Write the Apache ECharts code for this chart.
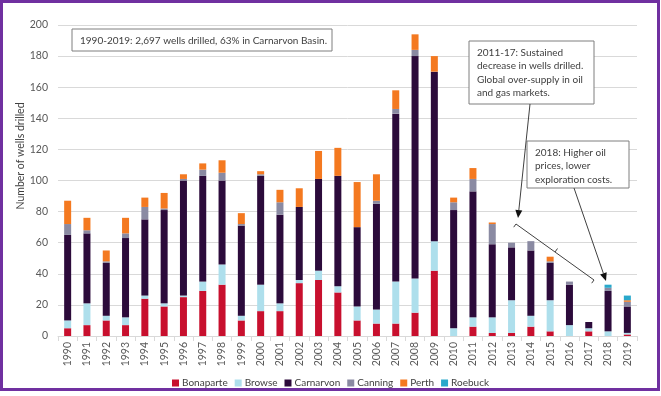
<!DOCTYPE html>
<html>
<head>
<meta charset="utf-8">
<script src="https://cdn.jsdelivr.net/npm/echarts@6/dist/echarts.min.js"></script>
<style>
  html, body { margin: 0; padding: 0; background: #fff; }
  #chart { width: 661px; height: 396px; }
</style>
</head>
<body>
<div id="chart"></div>
<script>
// 年份与各盆地钻井数
var years = ['1990', '1991', '1992', '1993', '1994', '1995', '1996', '1997', '1998', '1999',
    '2000', '2001', '2002', '2003', '2004', '2005', '2006', '2007', '2008', '2009',
    '2010', '2011', '2012', '2013', '2014', '2015', '2016', '2017', '2018', '2019'];
var bonaparte = [5, 7, 10, 7, 24, 19, 25, 29, 33, 10, 16, 16, 34, 36, 28, 10, 8, 8, 15, 42, 0, 6, 2, 2, 6, 3, 0, 3, 0, 1];
var browse = [5, 14, 3, 5, 2, 2, 1, 6, 13, 3, 17, 5, 2, 6, 4, 9, 9, 27, 22, 19, 5, 6, 10, 21, 7, 20, 7, 2, 3, 1];
var carnarvon = [55, 45, 34, 51, 49, 60, 74, 68, 54, 58, 70, 57, 47, 59, 71, 51, 68, 108, 143, 109, 76, 81, 47, 34, 42, 24, 26, 4, 26, 17];
var canning = [7, 2, 1, 3, 8, 1, 1, 4, 5, 1, 1, 8, 0, 0, 0, 0, 2, 3, 4, 0, 5, 8, 13, 3, 6, 1, 2, 0, 2, 3];
var perth = [15, 8, 7, 10, 6, 10, 3, 4, 8, 7, 2, 8, 12, 18, 18, 29, 17, 12, 10, 10, 3, 7, 1, 0, 0, 3, 0, 0, 0, 1];
var roebuck = [0, 0, 0, 0, 0, 0, 0, 0, 0, 0, 0, 0, 0, 0, 0, 0, 0, 0, 0, 0, 0, 0, 0, 0, 0, 0, 0, 0, 2, 3];

const FONT = 'Lato';
const TEXT_COLOR = '#595959';
const LINE_COLOR = '#404040';

var basins = [
    { name: 'Bonaparte', data: bonaparte, color: '#C8102E' },
    { name: 'Browse', data: browse, color: '#AEDFEC' },
    { name: 'Carnarvon', data: carnarvon, color: '#2C0B3B' },
    { name: 'Canning', data: canning, color: '#8A8AA2' },
    { name: 'Perth', data: perth, color: '#F47920' },
    { name: 'Roebuck', data: roebuck, color: '#29A8CB' }
];

var series = basins.map(function (b) {
    return {
        name: b.name,
        type: 'bar',
        stack: 'wells',
        barWidth: 7,
        data: b.data,
        itemStyle: { color: b.color }
    };
});

// 注释框
const noteBox = (x, y, w, h, lines) => {
    return {
        type: 'group',
        children: [{
            type: 'rect',
            shape: { x: x, y: y, width: w, height: h },
            style: { fill: '#fff', stroke: '#7f7f7f', lineWidth: 1 },
            z: 10
        }, {
            type: 'text',
            x: x + 8,
            y: y + 5,
            style: {
                text: lines.join('\n'),
                fill: LINE_COLOR,
                font: '10px "' + FONT + '"',
                lineHeight: 13.5
            },
            z: 11
        }]
    };
};

const arrow = (x1, y1, x2, y2) => {
    var dx = x2 - x1, dy = y2 - y1;
    var len = Math.sqrt(dx * dx + dy * dy);
    var ux = dx / len, uy = dy / len;
    var bx = x2 - ux * 8, by = y2 - uy * 8;
    return {
        type: 'group',
        children: [{
            type: 'line',
            shape: { x1: x1, y1: y1, x2: bx, y2: by },
            style: { stroke: LINE_COLOR, lineWidth: 1 },
            z: 10
        }, {
            type: 'polygon',
            shape: { points: [[x2, y2], [bx - uy * 3.5, by + ux * 3.5], [bx + uy * 3.5, by - ux * 3.5]] },
            style: { fill: '#111' },
            z: 10
        }]
    };
};

var graphic = [
    {
        type: 'rect',
        shape: { x: 1.5, y: 1.5, width: 657, height: 388 },
        style: { fill: 'none', stroke: '#7030A0', lineWidth: 3 },
        z: 20
    },
    {
        type: 'text',
        x: 21,
        y: 156,
        rotation: Math.PI / 2,
        style: {
            text: 'Number of wells drilled',
            fill: LINE_COLOR,
            font: '10.5px "' + FONT + '"',
            align: 'center',
            verticalAlign: 'middle'
        }
    },
    noteBox(72, 29, 260, 22, ['1990-2019: 2,697 wells drilled, 63% in Carnarvon Basin.']),
    noteBox(469, 41, 125, 63, ['2011-17: Sustained', 'decrease in wells drilled.', 'Global over-supply in oil', 'and gas markets.']),
    noteBox(527, 141, 102, 47, ['2018: Higher oil', 'prices, lower', 'exploration costs.']),
    arrow(530, 104, 518, 218),
    arrow(574, 188, 606, 281),
    {
        type: 'polyline',
        shape: { points: [[513.7, 227.2], [516, 224], [594, 280], [591.7, 283.2]] },
        style: { stroke: LINE_COLOR, lineWidth: 1, fill: 'none' },
        z: 10
    },
    {
        type: 'line',
        shape: { x1: 555, y1: 252, x2: 557.5, y2: 248.5 },
        style: { stroke: LINE_COLOR, lineWidth: 1 },
        z: 10
    }
];

var option = {
    animation: false,
    textStyle: { fontFamily: FONT },
    grid: { left: 58, right: 24, top: 25, bottom: 60, containLabel: false },
    legend: {
        top: 373,
        left: 'center',
        icon: 'rect',
        itemWidth: 7,
        itemHeight: 7,
        itemGap: 7,
        textStyle: { color: LINE_COLOR, fontSize: 10, fontFamily: FONT, padding: [0, 0, 0, -2] },
        data: basins.map(function (b) { return b.name; })
    },
    xAxis: {
        type: 'category',
        data: years,
        axisLine: { lineStyle: { color: '#d9d9d9' } },
        axisTick: { show: true, lineStyle: { color: '#d9d9d9' } },
        axisLabel: { rotate: 90, color: TEXT_COLOR, fontSize: 10.5, margin: 6, fontFamily: FONT }
    },
    yAxis: {
        type: 'value',
        min: 0,
        max: 200,
        interval: 20,
        axisLine: { show: false },
        axisTick: { show: false },
        axisLabel: { color: TEXT_COLOR, fontSize: 10.5, margin: 10, fontFamily: FONT },
        splitLine: { lineStyle: { color: '#d9d9d9' } }
    },
    series: series,
    graphic: graphic
};

var myChart = echarts.init(document.getElementById('chart'));
myChart.setOption(option);
</script>
</body>
</html>
